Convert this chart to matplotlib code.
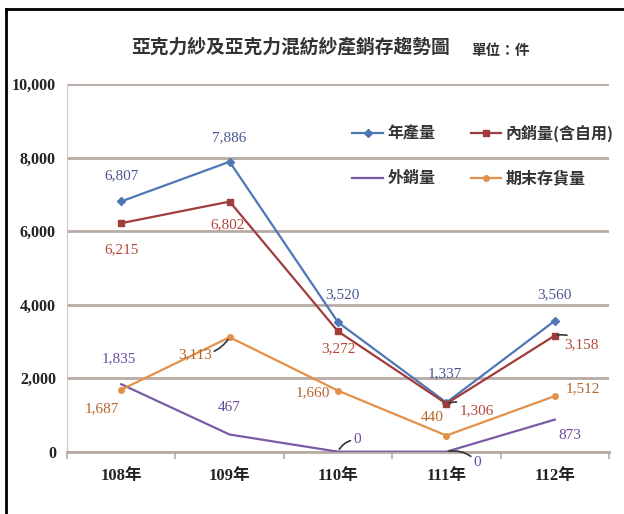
import numpy as np
import matplotlib.pyplot as plt
from matplotlib.lines import Line2D

# datos del grafico
years = ['108年', '109年', '110年', '111年', '112年']
prod = [6807, 7886, 3520, 1337, 3560]        # 年產量
domestic = [6215, 6802, 3272, 1306, 3158]    # 內銷量(含自用)
export = [1835, 467, 0, 0, 873]              # 外銷量
stock = [1687, 3113, 1660, 440, 1512]        # 期末存貨量
yticks = [0, 2000, 4000, 6000, 8000, 10000]

serif = ['Liberation Serif', 'Noto Sans CJK TC']
cjk = ['Noto Sans CJK TC', 'DejaVu Sans']

fig = plt.figure(figsize=(6.24, 5.14), dpi=100)
ax = fig.add_axes([67 / 624, (514 - 451.7) / 514, 542 / 624, (451.7 - 84) / 514])

x = np.arange(len(years))

# series: (valores, nombre, color linea, color etiqueta, marcador, offsets en px, lineas guia)
series = [
    (prod, '年產量', '#4f77b5', '#4a5590', 'D',
     [(0, 26), (0, 24), (4, 28), (-2, 29), (0, 26)], []),
    (domestic, '內銷量(含自用)', '#a03c3c', '#b5463a', 's',
     [(0, -27), (-2, -23), (0, -17), (30, -7), (27, -9)], [3, 4]),
    (export, '外銷量', '#7b5ba6', '#6a4aa0', None,
     [(-2, 26), (0, 27), (19, 12), (31, -11), (15, -16)], [2, 3]),
    (stock, '期末存貨量', '#e3914a', '#b5652a', 'o',
     [(-19, -19), (-35, -17), (-25, -2), (-14, 18), (28, 7)], [1]),
]

lines = {}
for vals, name, col, lcol, mk, offs, guides in series:
    ln, = ax.plot(x, vals, color=col, lw=1.6, marker=mk, ms=4, label=name, zorder=3)
    lines[name] = ln
    for i, v in enumerate(vals):
        dx, dy = offs[i]
        kw = {}
        if i in guides:
            kw['arrowprops'] = dict(arrowstyle='-', color='#333333', lw=1.2,
                                    shrinkA=0, shrinkB=2,
                                    connectionstyle='arc3,rad=0.3')
        ax.annotate(f'{v:,}', (x[i], v), xytext=(dx, dy), textcoords='offset pixels',
                    ha='center', va='center', fontsize=11, color=lcol,
                    family=serif, zorder=4, **kw)

ax.set_xlim(-0.5, len(years) - 0.5)
ax.set_ylim(0, 10000)
ax.set_yticks(yticks)
ax.set_yticklabels([f'{t:,}' for t in yticks], family=serif, fontsize=11.5,
                   fontweight='bold', color='#222222')
ax.set_xticks(x)
ax.set_xticklabels(years, family=serif, fontsize=12, fontweight='bold', color='#222222')
ax.set_xticks(np.arange(len(years) + 1) - 0.5, minor=True)
ax.tick_params(axis='x', which='major', length=0, pad=12)
ax.tick_params(axis='x', which='minor', length=5, color='#b8aaa5', width=1.2)
ax.tick_params(axis='y', length=0, pad=8)

ax.grid(axis='y', color='#b8aaa5', lw=2)
ax.set_axisbelow(True)
for s in ['top', 'right']:
    ax.spines[s].set_visible(False)
ax.spines['left'].set_color('#d0c8c5')
ax.spines['bottom'].set_color('#b8aaa5')
ax.spines['bottom'].set_linewidth(2)

order = ['年產量', '外銷量', '內銷量(含自用)', '期末存貨量']
leg = ax.legend([lines[n] for n in order], order, ncol=2, loc='upper left',
                bbox_to_anchor=(338 / 624, 1 - 110 / 514),
                bbox_transform=fig.transFigure, frameon=False, handlelength=1.9,
                handletextpad=0.3, columnspacing=2.2, labelspacing=1.8,
                prop={'family': cjk, 'size': 11.5, 'weight': 'bold'})
for t in leg.get_texts():
    t.set_color('#333333')

fig.text(290 / 624, 1 - 48 / 514, '亞克力紗及亞克力混紡紗產銷存趨勢圖', ha='center', va='center',
         fontsize=13.5, fontweight='bold', family=cjk, color='#333333')
fig.text(500 / 624, 1 - 50 / 514, '單位：件', ha='center', va='center',
         fontsize=10.5, fontweight='bold', family=cjk, color='#333333')

# marco
fig.add_artist(Line2D([6 / 624, 6 / 624], [0, 1 - 9 / 514], color='black', lw=2,
                      transform=fig.transFigure))
fig.add_artist(Line2D([6 / 624, 1], [1 - 9 / 514, 1 - 9 / 514], color='black', lw=2,
                      transform=fig.transFigure))

fig.savefig('out.png', dpi=100)
